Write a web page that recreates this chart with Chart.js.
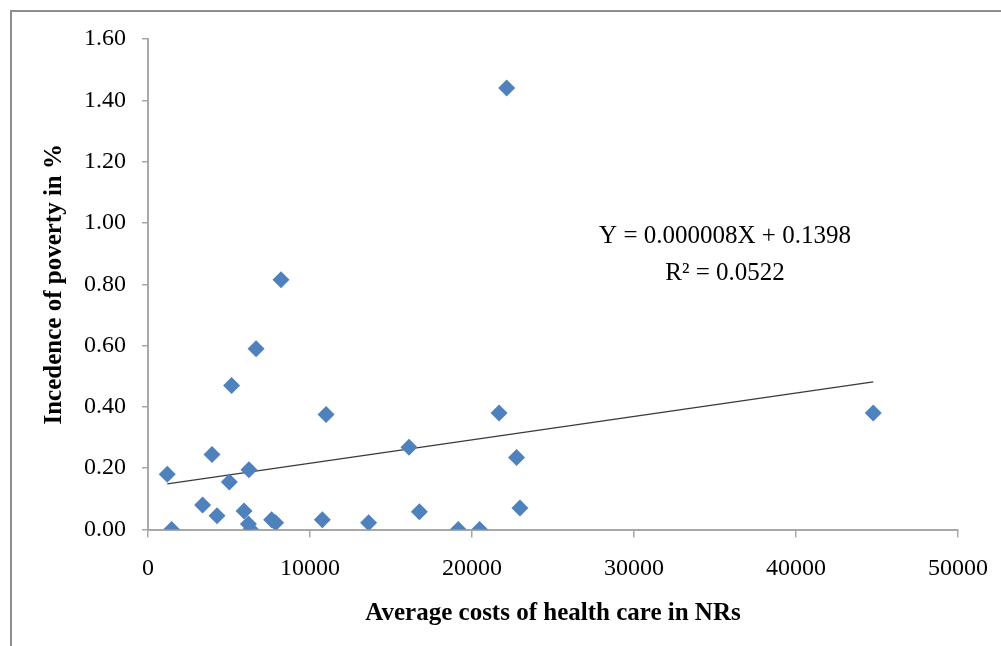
<!DOCTYPE html>
<html>
<head>
<meta charset="utf-8">
<script src="https://cdn.jsdelivr.net/npm/chart.js@4"></script>
<style>
  html, body { margin: 0; padding: 0; background: #ffffff; }
  #wrap { position: relative; width: 1001px; height: 646px; overflow: hidden; }
  #frame { position: absolute; left: 10px; top: 10px; width: 1200px; height: 900px;
           border-top: 2px solid #8e8e8e; border-left: 2px solid #8e8e8e; box-sizing: border-box; }
  canvas { position: absolute; left: 0; top: 0; }
</style>
</head>
<body>
<div id="wrap">
  <div id="frame"></div>
  <canvas id="c" width="1001" height="646"></canvas>
</div>
<script>
// Average costs of health care (NRs)
const costs = [1190, 1460, 3370, 3950, 4260, 5020, 5160, 5930, 6230, 6200, 6340, 6670, 7630, 7880, 8210,
               10760, 10990, 13620, 16110, 16750, 19150, 20470, 21670, 22140, 22750, 22960, 44770];
// Incidence of poverty (%)
const poverty = [0.18, 0.00, 0.08, 0.245, 0.045, 0.155, 0.47, 0.06, 0.195, 0.018, 0.00, 0.59, 0.032, 0.022, 0.815,
                 0.032, 0.375, 0.022, 0.268, 0.058, 0.00, 0.00, 0.38, 1.44, 0.235, 0.07, 0.38];
// Trend line (as drawn)
const trendSlope = 0.00000764;
const trendIntercept = 0.1398;
const equationLines = ['Y = 0.000008X + 0.1398', 'R² = 0.0522'];
const xTitle = 'Average costs of health care in NRs';
const yTitle = 'Incedence of poverty in %';

const points = costs.map((c, i) => ({ x: c, y: poverty[i] }));
const xMin = Math.min(...costs), xMax = Math.max(...costs);
const trend = [xMin, xMax].map(x => ({ x: x, y: trendIntercept + trendSlope * x }));

const serif = '"Liberation Serif", "Times New Roman", serif';
const axisColor = '#a8a8a8';

const equationPlugin = {
  id: 'equation',
  afterDatasetsDraw(chart) {
    const ctx = chart.ctx;
    ctx.save();
    ctx.fillStyle = '#000';
    ctx.font = '25px ' + serif;
    ctx.textAlign = 'center';
    ctx.textBaseline = 'middle';
    ctx.fillText(equationLines[0], 725, 236);
    ctx.fillText(equationLines[1], 725, 273);
    ctx.restore();
  }
};

new Chart(document.getElementById('c'), {
  type: 'scatter',
  data: {
    datasets: [
      {
        type: 'line',
        data: trend,
        borderColor: '#3a3a3a',
        borderWidth: 1.3,
        pointRadius: 0,
        fill: false,
        order: 2
      },
      {
        data: points,
        pointStyle: 'rectRot',
        pointRadius: 8.5,
        pointBackgroundColor: '#4F81BD',
        pointBorderColor: '#4F81BD',
        pointBorderWidth: 0,
        order: 1
      }
    ]
  },
  options: {
    responsive: false,
    animation: false,
    devicePixelRatio: 1,
    layout: { padding: { top: 39, right: 43, left: 0, bottom: 0 } },
    plugins: { legend: { display: false }, tooltip: { enabled: false } },
    scales: {
      x: {
        type: 'linear',
        min: 0, max: 50000,
        afterFit(s) { s.height = 116.5; s.paddingRight = 0; s.paddingLeft = 0; },
        ticks: { stepSize: 10000, color: '#000', padding: 17, maxRotation: 0,
                 font: { family: serif, size: 24 },
                 callback: v => String(v) },
        grid: { drawOnChartArea: false, tickLength: 8, color: axisColor, lineWidth: 1.5 },
        border: { display: true, color: axisColor, width: 2 },
        title: { display: true, text: xTitle, color: '#000',
                 font: { family: serif, size: 25, weight: 'bold', lineHeight: 1.2 },
                 padding: { top: 0, bottom: 17 } }
      },
      y: {
        type: 'linear',
        min: 0, max: 1.6,
        afterFit(s) { s.width = 148; s.paddingTop = 0; s.paddingBottom = 0; },
        ticks: { stepSize: 0.2, color: '#000', padding: 16,
                 font: { family: serif, size: 24 },
                 callback: v => Number(v).toFixed(2) },
        grid: { drawOnChartArea: false, tickLength: 6, color: axisColor, lineWidth: 1.5 },
        border: { display: true, color: axisColor, width: 2 },
        title: { display: true, text: yTitle, color: '#000',
                 font: { family: serif, size: 25, weight: 'bold', lineHeight: 1.2 },
                 padding: { top: 40, bottom: 0 } }
      }
    }
  },
  plugins: [equationPlugin]
});
</script>
</body>
</html>
